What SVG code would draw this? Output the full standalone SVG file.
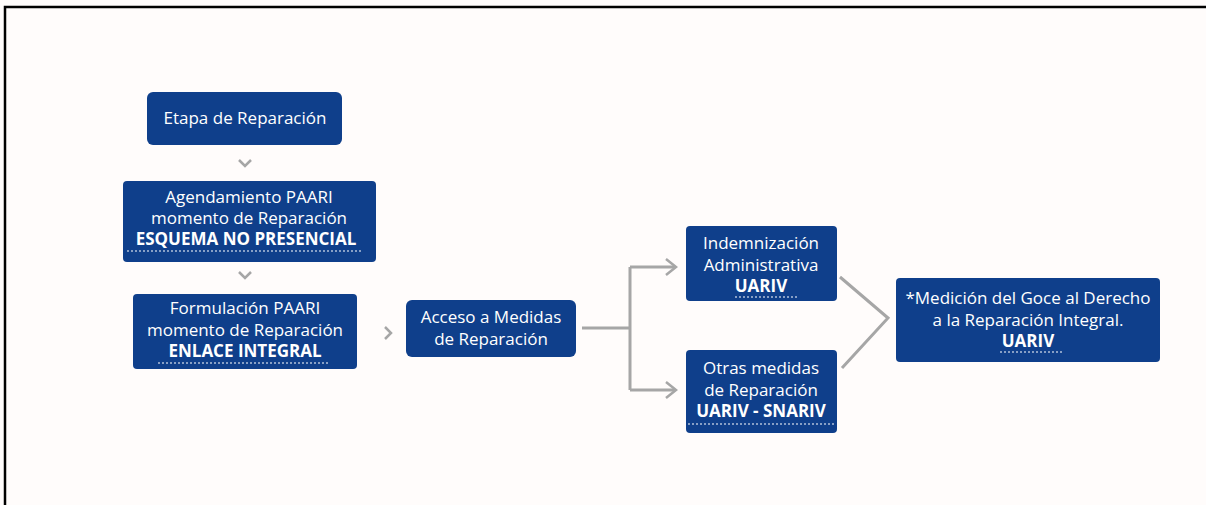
<svg xmlns="http://www.w3.org/2000/svg" width="1206" height="505" viewBox="0 0 1206 505">
<defs>
<style>
.box{fill:#0f3f8b}
.t{fill:#ffffff;font-family:"Open Sans","Liberation Sans",sans-serif;font-size:17px;text-anchor:middle}
.b{font-weight:bold}
.dot{stroke:#ffffff;stroke-width:1.2;stroke-dasharray:2 2;fill:none}
.con{stroke:#a6a6a6;stroke-width:3;fill:none}
.chev{stroke:#a6a6a6;stroke-width:2.5;fill:none}
</style>
</defs>
<rect x="0" y="0" width="1206" height="505" fill="#fffcfb"/>
<path d="M5,505 V7 H1206" stroke="#000" stroke-width="2.5" fill="none"/>
<g id="connectors">
<path class="chev" d="M239,160 L245,166 L251,160"/>
<path class="chev" d="M239,272 L245,278 L251,272"/>
<path class="chev" d="M385,327 L391,333 L385,339"/>
<path class="con" d="M582,328 H630 M630,267 V390 M630,267 H675 M630,390 H675"/>
<path class="chev" d="M666,259 L676,267 L666,275"/>
<path class="chev" d="M666,382 L676,390 L666,398"/>
<path class="con" d="M840,277 L888,318 L842,368" stroke-width="2.5"/>
</g>
<g id="n1">
<rect class="box" x="147" y="92" width="195" height="53" rx="6"/>
<text class="t" x="245" y="124">Etapa de Reparación</text>
</g>
<g id="n2">
<rect class="box" x="123" y="181" width="253" height="81" rx="4"/>
<text class="t" x="249" y="203">Agendamiento PAARI</text>
<text class="t" x="249" y="224">momento de Reparación</text>
<text class="t b" x="246" y="245">ESQUEMA NO PRESENCIAL</text>
<line class="dot" x1="127" y1="251" x2="362" y2="251"/>
</g>
<g id="n3">
<rect class="box" x="133" y="294" width="224" height="75" rx="4"/>
<text class="t" x="245" y="314">Formulación PAARI</text>
<text class="t" x="245" y="336">momento de Reparación</text>
<text class="t b" x="245" y="357">ENLACE INTEGRAL</text>
<line class="dot" x1="158" y1="363" x2="330" y2="363"/>
</g>
<g id="n4">
<rect class="box" x="406" y="300" width="170" height="57" rx="6"/>
<text class="t" x="491" y="323">Acceso a Medidas</text>
<text class="t" x="491" y="345">de Reparación</text>
</g>
<g id="n5">
<rect class="box" x="686" y="226" width="151" height="75" rx="4"/>
<text class="t" x="761" y="249">Indemnización</text>
<text class="t" x="761" y="271">Administrativa</text>
<text class="t b" x="761" y="292">UARIV</text>
<line class="dot" x1="735" y1="297" x2="797" y2="297"/>
</g>
<g id="n6">
<rect class="box" x="686" y="350" width="151" height="83" rx="4"/>
<text class="t" x="761" y="374">Otras medidas</text>
<text class="t" x="761" y="396">de Reparación</text>
<text class="t b" x="761" y="417">UARIV - SNARIV</text>
<line class="dot" x1="688" y1="424" x2="834" y2="424"/>
</g>
<g id="n7">
<rect class="box" x="896" y="278" width="264" height="84" rx="4"/>
<text class="t" x="1028" y="304">*Medición del Goce al Derecho</text>
<text class="t" x="1028" y="326">a la Reparación Integral.</text>
<text class="t b" x="1028" y="347">UARIV</text>
<line class="dot" x1="1000" y1="352" x2="1062" y2="352"/>
</g>
</svg>
